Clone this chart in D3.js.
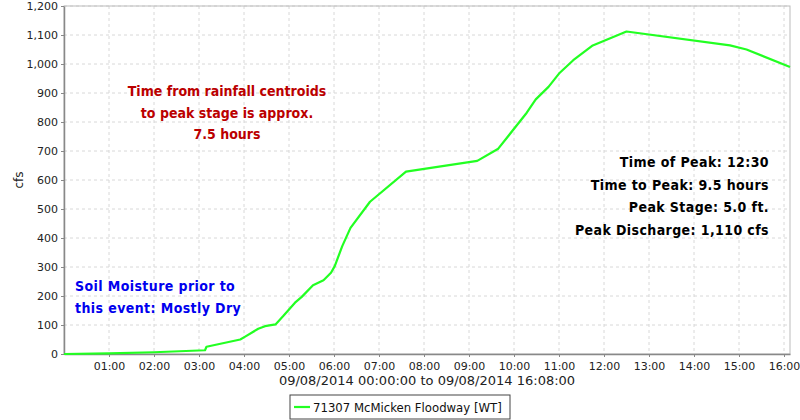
<!DOCTYPE html>
<html>
<head>
<meta charset="utf-8">
<script src="https://cdn.jsdelivr.net/npm/d3@7"></script>
<style>
  body { margin: 0; background: #fff; }
  text { font-family: "DejaVu Sans", sans-serif; }
</style>
</head>
<body>
<svg id="chart" width="800" height="420"></svg>
<script>
// readings taken off the hydrograph (time of day, discharge in cfs)
const times = ["00:00", "01:00", "02:00", "03:08", "03:10", "03:55", "04:01", "04:19", "04:28", "04:42",
  "04:52", "05:08", "05:17", "05:32", "05:46", "05:56", "06:01", "06:11", "06:22", "06:48",
  "07:36", "09:11", "09:39", "10:17", "10:29", "10:46", "11:00", "11:19", "11:45", "12:30",
  "14:48", "15:10", "16:08"];
const flows = [0, 2, 6, 13, 25, 50, 59, 87, 96, 102,
  130, 177, 197, 237, 254, 280, 303, 372, 435, 525,
  629, 666, 708, 832, 878, 921, 967, 1013, 1064, 1112,
  1064, 1050, 990];
const hourTicks = ["01:00", "02:00", "03:00", "04:00", "05:00", "06:00", "07:00", "08:00",
  "09:00", "10:00", "11:00", "12:00", "13:00", "14:00", "15:00", "16:00"];
const yTicks = [0, 100, 200, 300, 400, 500, 600, 700, 800, 900, 1000, 1100, 1200];
const startTime = "00:00", endTime = "16:08";
const seriesName = "71307 McMicken Floodway [WT]";
const noteRed = ["Time from rainfall centroids", "to peak stage is approx.", "7.5 hours"];
const notePeak = ["Time of Peak: 12:30", "Time to Peak: 9.5 hours", "Peak Stage: 5.0 ft.", "Peak Discharge: 1,110 cfs"];
const noteSoil = ["Soil Moisture prior to", "this event: Mostly Dry"];

const parse = d3.timeParse("%Y-%m-%d %H:%M");
const t = s => parse("2014-09-08 " + s);
const data = times.map((s, i) => ({ t: t(s), v: flows[i] }));

const svg = d3.select("#chart");
const margin = { top: 6, right: 10, bottom: 66, left: 64 };
const width = 800 - margin.left - margin.right;
const height = 420 - margin.top - margin.bottom;
const g = svg.append("g").attr("transform", `translate(${margin.left},${margin.top})`);

const x = d3.scaleTime().domain([t(startTime), t(endTime)]).range([0, width]);
const y = d3.scaleLinear().domain([0, 1200]).range([height, 0]);

// grid
g.append("g").selectAll("line").data(hourTicks).join("line")
  .attr("x1", d => x(t(d))).attr("x2", d => x(t(d)))
  .attr("y1", 0).attr("y2", height)
  .attr("stroke", "#d8d8d8").attr("stroke-dasharray", "3,3");
g.append("g").selectAll("line").data(yTicks.slice(1)).join("line")
  .attr("x1", 0).attr("x2", width)
  .attr("y1", d => y(d)).attr("y2", d => y(d))
  .attr("stroke", "#d8d8d8").attr("stroke-dasharray", "3,3");

// plot border
g.append("rect").attr("width", width).attr("height", height)
  .attr("fill", "none").attr("stroke", "#bbb");

const xAxis = g.append("g").attr("transform", `translate(0,${height})`)
  .call(d3.axisBottom(x).tickValues(hourTicks.map(t)).tickFormat(d3.timeFormat("%H:%M")).tickSize(3).tickSizeOuter(0));
const yAxis = g.append("g")
  .call(d3.axisLeft(y).tickValues(yTicks).tickFormat(d3.format(",")).tickSize(3).tickSizeOuter(0));
[xAxis, yAxis].forEach(a => {
  a.select(".domain").attr("stroke", "#888").attr("stroke-width", 1.5);
  a.selectAll(".tick line").attr("stroke", "#888");
  a.selectAll(".tick text").attr("fill", "#222").style("font-size", "11px");
});
xAxis.selectAll(".tick text").attr("dy", "0.9em");

svg.append("text").attr("transform", "translate(23,180) rotate(-90)")
  .attr("text-anchor", "middle").style("font-size", "12px").attr("fill", "#222").text("cfs");
svg.append("text").attr("x", margin.left + width / 2).attr("y", 385)
  .attr("text-anchor", "middle").style("font-size", "13px").attr("fill", "#222")
  .text("09/08/2014 00:00:00 to 09/08/2014 16:08:00");

// series
const line = d3.line().x(d => x(d.t)).y(d => y(d.v));
g.append("path").datum(data).attr("fill", "none").attr("stroke", "#22ff22")
  .attr("stroke-width", 2.2).attr("stroke-linejoin", "round").attr("d", line);

// annotations
const noteFont = "\"DejaVu Sans Condensed\", \"DejaVu Sans\", sans-serif";
svg.append("g").selectAll("text").data(noteRed).join("text")
  .attr("x", 227).attr("y", (d, i) => 96 + i * 21.5)
  .attr("text-anchor", "middle").attr("fill", "#bb0000")
  .style("font-family", noteFont).style("font-weight", "bold").style("font-size", "14px").text(d => d);
svg.append("g").selectAll("text").data(notePeak).join("text")
  .attr("x", 769).attr("y", (d, i) => 167 + i * 22.5)
  .attr("text-anchor", "end").attr("fill", "#000")
  .style("font-family", noteFont).style("font-weight", "bold").style("font-size", "14px")
  .style("letter-spacing", "0.4px").text(d => d);
svg.append("g").selectAll("text").data(noteSoil).join("text")
  .attr("x", 75).attr("y", (d, i) => 291 + i * 21.5)
  .attr("fill", "#0000ee")
  .style("font-family", noteFont).style("font-weight", "bold").style("font-size", "14px")
  .style("letter-spacing", "0.4px").text(d => d);

// legend
const lg = svg.append("g").attr("transform", "translate(290,395)");
lg.append("rect").attr("width", 220).attr("height", 24).attr("fill", "#fff")
  .attr("stroke", "#444").attr("stroke-width", 1);
lg.append("line").attr("x1", 4).attr("x2", 20).attr("y1", 12).attr("y2", 12)
  .attr("stroke", "#22ff22").attr("stroke-width", 2.2);
lg.append("text").attr("x", 23).attr("y", 17).style("font-family", noteFont)
  .style("font-size", "13px").attr("fill", "#111").text(seriesName);
</script>
</body>
</html>
